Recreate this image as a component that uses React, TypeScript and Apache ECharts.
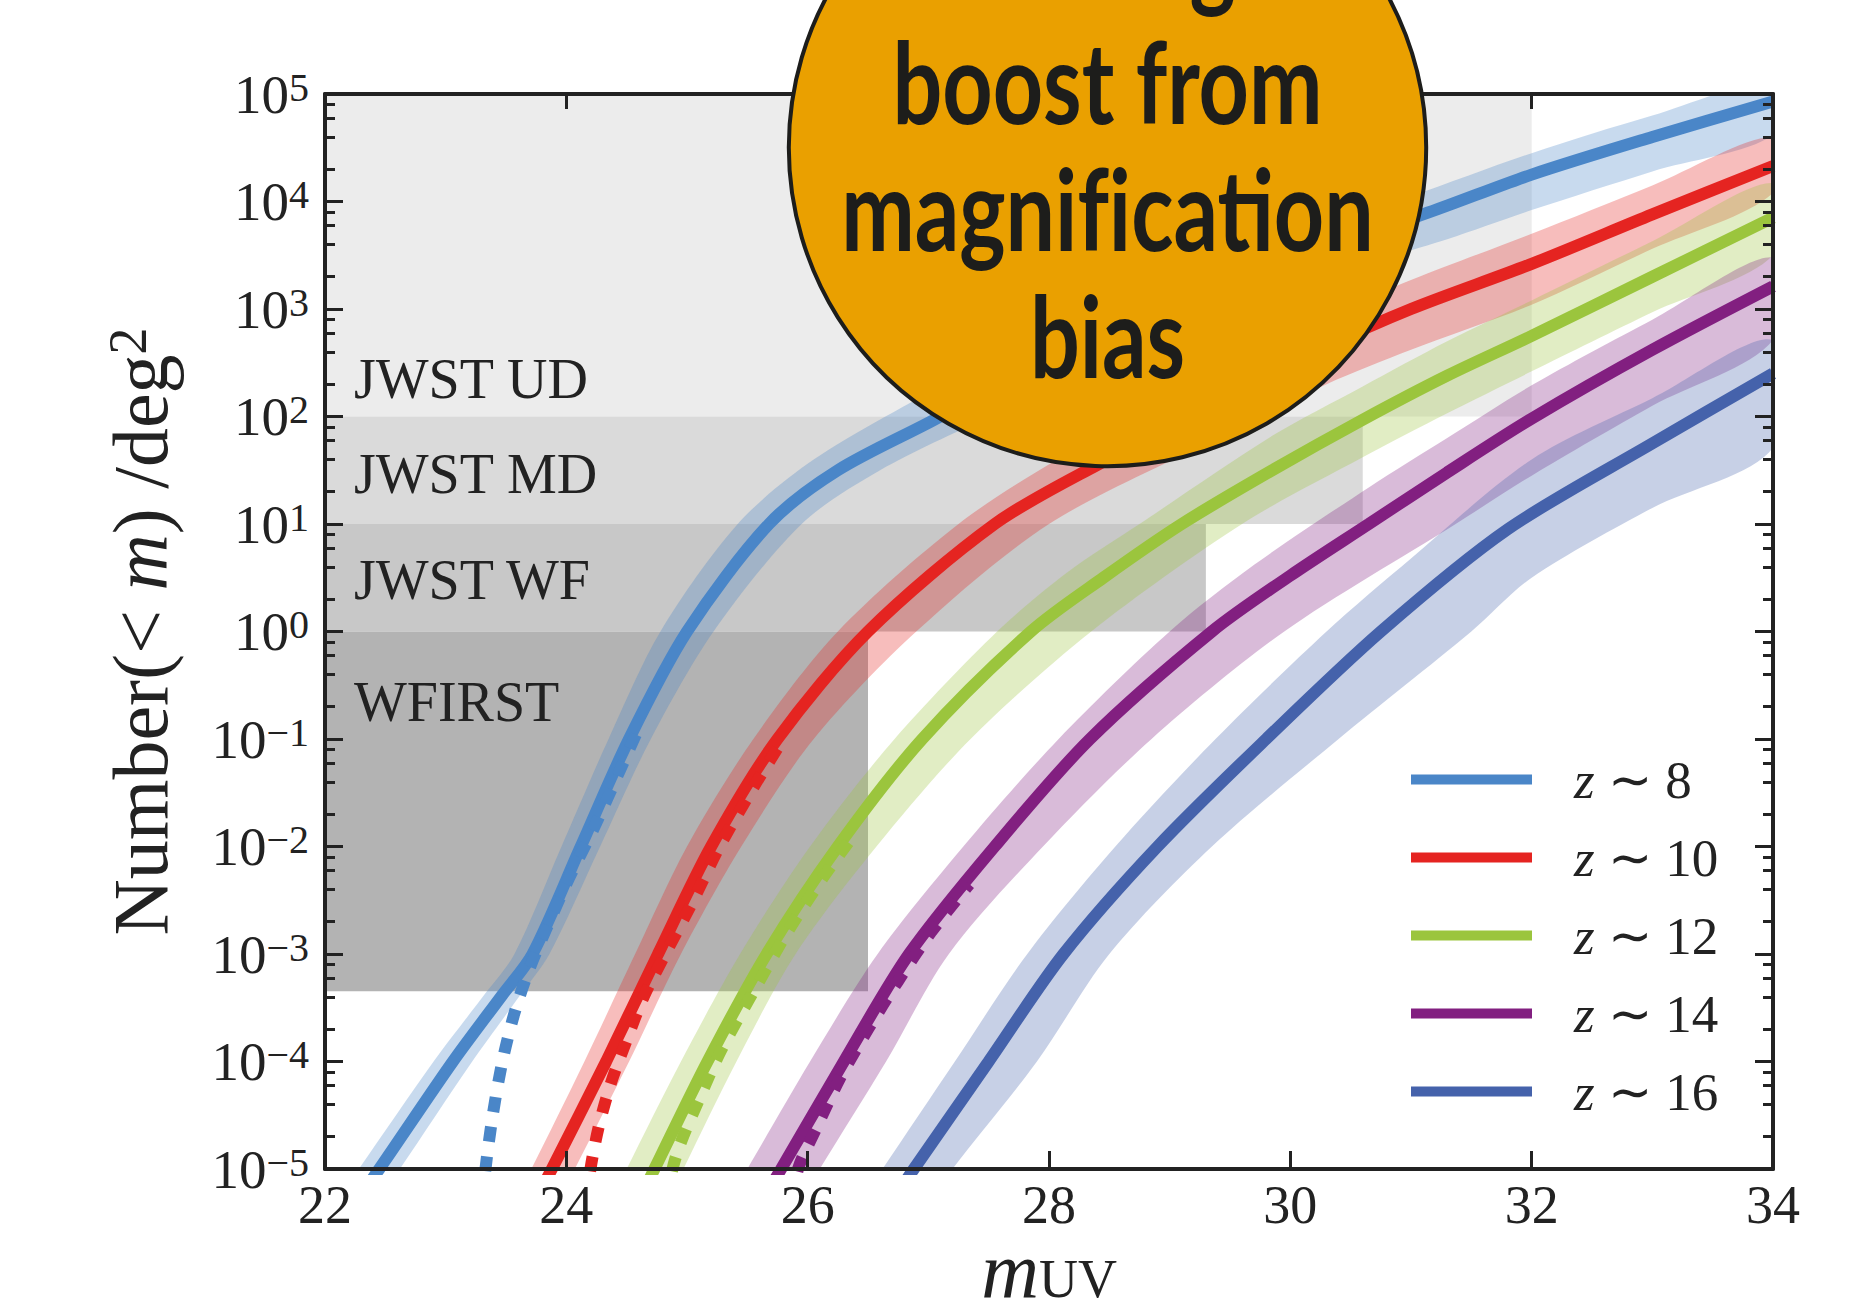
import React, { useEffect, useRef } from 'react';
import * as echarts from 'echarts';

// ---------- axis data ----------
const magTicks = [22, 24, 26, 28, 30, 32, 34];
const magMin = 22;
const magMax = 34;
const nMin = 1e-5;
const nMax = 1e5;
const minorSubs = [2, 4, 6, 8];

// ---------- series meta ----------
const seriesNames = ['z ∼ 8', 'z ∼ 10', 'z ∼ 12', 'z ∼ 14', 'z ∼ 16'];
const seriesColors = ['#4a86c8', '#e52421', '#9bc53d', '#821f80', '#4562ab'];

// ---------- curves: [m_UV, log10 Number(<m)/deg^2] ----------
const z8Line = [[22.26, -5.3], [22.45, -5], [23.06, -4], [23.47, -3.38], [23.72, -3], [24.12, -2], [24.52, -1], [25.0, 0], [25.68, 1], [26.25, 1.5], [27.1, 2], [28, 2.58], [29, 3.08], [30, 3.48], [31.1, 3.88], [32, 4.25], [33, 4.6], [34, 4.93]];
const z8Upper = [[22.09, -5.3], [22.28, -5], [22.9, -4], [23.32, -3.38], [23.57, -3], [23.96, -2], [24.35, -1], [24.78, 0], [25.42, 1], [26.05, 1.6], [27.1, 2.28], [28, 2.8], [29, 3.28], [30, 3.68], [31, 4.05], [32, 4.45], [33, 4.8], [34, 5.1]];
const z8Lower = [[22.43, -5.3], [22.62, -5], [23.22, -4], [23.62, -3.38], [23.86, -3], [24.28, -2], [24.7, -1], [25.22, 0], [25.95, 1], [26.6, 1.5], [27.5, 2.0], [28.5, 2.55], [29.5, 3.0], [30.5, 3.38], [31.3, 3.65], [32, 3.92], [33, 4.28], [34, 4.62]];
const z8NoBias = [[23.31, -5.3], [23.33, -5], [23.39, -4.5], [23.47, -4], [23.57, -3.55], [23.69, -3.15], [23.84, -2.75], [24.02, -2.3], [24.24, -1.8], [24.44, -1.3], [24.6, -0.9]];

const z10Line = [[23.74, -5.3], [23.88, -5], [24.33, -4], [24.76, -3], [25.2, -2], [25.75, -1], [26.5, 0], [27.55, 1], [28.4, 1.55], [29.4, 2.12], [30.3, 2.65], [31, 3.0], [32, 3.42], [33, 3.88], [34, 4.33]];
const z10Upper = [[23.57, -5.3], [23.71, -5], [24.15, -4], [24.57, -3], [25.0, -2], [25.55, -1], [26.25, 0], [27.25, 1], [28.1, 1.62], [29.4, 2.42], [30.3, 2.93], [31, 3.27], [32, 3.7], [33, 4.15], [34, 4.6]];
const z10Lower = [[23.93, -5.3], [24.07, -5], [24.52, -4], [24.95, -3], [25.45, -2], [26.05, -1], [26.9, 0], [28.0, 1], [29.4, 1.8], [30.3, 2.3], [31, 2.62], [32, 3.04], [33, 3.56], [34, 4.08]];
const z10NoBias = [[24.17, -5.3], [24.2, -5], [24.27, -4.6], [24.37, -4.2], [24.5, -3.8], [24.64, -3.4], [24.82, -3.0], [25.03, -2.55], [25.27, -2.0], [25.55, -1.45], [25.77, -1.05]];

const z12Line = [[24.6, -5.3], [24.73, -5], [25.17, -4], [25.66, -3], [26.25, -2], [26.95, -1], [27.85, 0], [28.45, 0.5], [29.1, 1.0], [29.85, 1.5], [30.6, 1.97], [31.3, 2.38], [32, 2.75], [33, 3.3], [34, 3.85]];
const z12Upper = [[24.37, -5.3], [24.5, -5], [24.95, -4], [25.44, -3], [26.02, -2], [26.72, -1], [27.57, 0], [28.15, 0.55], [28.75, 1.0], [29.85, 1.82], [30.6, 2.28], [31.3, 2.7], [32, 3.08], [33, 3.63], [34, 4.17]];
const z12Lower = [[24.84, -5.3], [24.97, -5], [25.41, -4], [25.9, -3], [26.57, -2], [27.35, -1], [28.35, 0], [29.6, 1.0], [30.6, 1.62], [31.3, 2.03], [32, 2.42], [33, 2.97], [34, 3.5]];
const z12NoBias = [[24.84, -5.3], [24.88, -5], [24.95, -4.75], [25.1, -4.35], [25.28, -3.9], [25.55, -3.35], [25.83, -2.8], [26.12, -2.3], [26.41, -1.85]];

const z14Line = [[25.62, -5.3], [25.78, -5], [26.3, -4], [26.84, -3], [27.55, -2], [28.34, -1], [29.35, 0], [30.0, 0.52], [30.65, 1.0], [31.3, 1.48], [32, 1.98], [33, 2.62], [34, 3.21]];
const z14Upper = [[25.34, -5.3], [25.5, -5], [26.02, -4], [26.58, -3], [27.29, -2], [28.08, -1], [29.0, 0], [29.7, 0.62], [30.65, 1.34], [31.3, 1.8], [32, 2.29], [33, 2.9], [34, 3.48]];
const z14Lower = [[25.94, -5.3], [26.1, -5], [26.65, -4], [27.17, -3], [27.95, -2], [28.85, -1], [29.95, 0], [31.37, 1.0], [32, 1.45], [33, 2.1], [34, 2.71]];
const z14NoBias = [[25.88, -5.3], [25.92, -5], [26.08, -4.6], [26.27, -4.15], [26.5, -3.7], [26.75, -3.25], [27.02, -2.8], [27.34, -2.35]];

const z16Line = [[26.7, -5.3], [26.88, -5], [27.5, -4], [28.12, -3], [28.9, -2], [29.8, -1], [30.75, 0], [31.8, 0.95], [33, 1.75], [34, 2.4]];
const z16Upper = [[26.44, -5.3], [26.62, -5], [27.22, -4], [27.82, -3], [28.55, -2], [29.38, -1], [30.3, 0], [31, 0.68], [32, 1.6], [33, 2.17], [34, 2.71]];
const z16Lower = [[27.02, -5.3], [27.2, -5], [27.9, -4], [28.5, -3], [29.35, -2], [30.4, -1], [31.5, 0], [32, 0.5], [33, 1.15], [34, 1.71]];

const centerLines = [z8Line, z10Line, z12Line, z14Line, z16Line];
const upperEdges = [z8Upper, z10Upper, z12Upper, z14Upper, z16Upper];
const lowerEdges = [z8Lower, z10Lower, z12Lower, z14Lower, z16Lower];
const noBiasLines = [z8NoBias, z10NoBias, z12NoBias, z14NoBias];

// ---------- survey regions ----------
const regionNames = ['JWST UD', 'JWST MD', 'JWST WF', 'WFIRST'];
const regionMagMax = [32, 30.6, 29.3, 26.5];
const regionNLow = [1e2, 1e1, 1, 4.5e-4];
const regionNHigh = [1e5, 1e2, 1e1, 1];
const regionColors = ['#ececec', '#dadada', '#c8c8c8', '#b3b3b3'];
const regionLabelMag = [22.24, 22.24, 22.24, 22.24];
const regionLabelN = [157, 20.9, 2.14, 0.158]; // text baseline

// ---------- bubble ----------
const bubbleLines = ['Strong', 'boost from', 'magnif\u200Cication', 'bias'];
const bubbleBaselines = [-3, 124, 251, 378];

const SERIF = '"Liberation Serif", "Times New Roman", serif';
const INK = '#222222';

const toVal = (pts: number[][]) => pts.map(([m, lg]) => [m, Math.pow(10, lg)]);

function supDigits(e: number) {
  return e < 0 ? '−' + String(-e) : String(e);
}

function buildOption() {
  const minorTickLogs: number[] = [];
  for (let e = -5; e < 5; e++) for (const k of minorSubs) minorTickLogs.push(e + Math.log10(k));

  const axisLine = { onZero: false, lineStyle: { color: INK, width: 4 } };
  const majorTick = { inside: true, length: 18, lineStyle: { color: INK, width: 3 } };

  const series: any[] = [];

  // survey regions
  series.push({
    type: 'custom',
    name: 'regions',
    silent: true,
    clip: true,
    z: 1,
    data: regionNames.map((_, i) => [magMin, regionNLow[i], regionMagMax[i], regionNHigh[i]]),
    renderItem: (params: any, api: any) => {
      const i = params.dataIndex;
      const p0 = api.coord([magMin, regionNHigh[i]]);
      const p1 = api.coord([regionMagMax[i], regionNLow[i]]);
      const lab = api.coord([regionLabelMag[i], regionLabelN[i]]);
      return {
        type: 'group',
        children: [
          {
            type: 'rect',
            shape: { x: p0[0], y: p0[1], width: p1[0] - p0[0], height: p1[1] - p0[1] },
            style: { fill: regionColors[i] },
          },
          {
            type: 'text',
            x: lab[0],
            y: lab[1] - 16,
            style: {
              text: regionNames[i],
              fill: INK,
              font: `56px ${SERIF}`,
              align: 'left',
              textAlign: 'left',
              verticalAlign: 'middle',
              textVerticalAlign: 'middle',
            },
          },
        ],
      };
    },
  });

  // bands
  seriesNames.forEach((name, i) => {
    const up = toVal(upperEdges[i]);
    const lo = toVal(lowerEdges[i]);
    series.push({
      type: 'custom',
      name: name + ' band',
      silent: true,
      clip: true,
      z: 2,
      data: [up[0]],
      renderItem: (_p: any, api: any) => {
        const pts = up.map((p) => api.coord(p)).concat(lo.slice().reverse().map((p) => api.coord(p)));
        return {
          type: 'polygon',
          shape: { points: pts, smooth: 0.3 },
          style: { fill: seriesColors[i], opacity: 0.3 },
        };
      },
    });
  });

  // central curves
  seriesNames.forEach((name, i) => {
    series.push({
      type: 'line',
      name,
      data: toVal(centerLines[i]),
      symbol: 'none',
      showSymbol: false,
      smooth: 0.3,
      silent: true,
      z: 3,
      itemStyle: { color: seriesColors[i] },
      lineStyle: { color: seriesColors[i], width: 12 },
    });
  });

  // without magnification bias (dotted)
  noBiasLines.forEach((pts, i) => {
    series.push({
      type: 'line',
      name: seriesNames[i] + ' no bias',
      data: toVal(pts),
      symbol: 'none',
      showSymbol: false,
      smooth: 0.3,
      silent: true,
      z: 4,
      itemStyle: { color: seriesColors[i] },
      lineStyle: { color: seriesColors[i], width: 12, type: [15, 15] },
    });
  });

  const graphic: any[] = [
    {
      type: 'circle',
      z: 100,
      shape: { cx: 1107.5, cy: 147.5, r: 318.7 },
      style: { fill: '#eaa000', stroke: '#1d1d1b', lineWidth: 4 },
    },
    ...bubbleLines.map((t, i) => ({
      type: 'text',
      z: 101,
      x: 1107.5,
      y: bubbleBaselines[i] - 44,
      scaleX: 0.77,
      style: {
        text: t,
        font: 'bold 114px Lato, "Open Sans", sans-serif',
        fill: '#1d1d1b',
        textAlign: 'center',
        textVerticalAlign: 'middle',
        align: 'center',
        verticalAlign: 'middle',
      },
    })),
  ];

  return {
    animation: false,
    backgroundColor: '#ffffff',
    grid: { left: 325, top: 94, width: 1448, height: 1075, containLabel: false, outerBoundsMode: 'none' },
    legend: {
      data: seriesNames,
      orient: 'vertical',
      left: 1411,
      top: 753,
      padding: 0,
      icon: 'rect',
      itemWidth: 121,
      itemHeight: 10,
      itemGap: 25,
      selectedMode: false,
      formatter: (name: string) => '{i|z}' + name.slice(1),
      textStyle: {
        fontFamily: SERIF,
        fontSize: 53,
        lineHeight: 50,
        color: INK,
        padding: [0, 0, 0, 37],
        rich: { i: { fontFamily: SERIF, fontSize: 53, fontStyle: 'italic', color: INK } },
      },
    },
    xAxis: [
      {
        type: 'value',
        min: magMin,
        max: magMax,
        interval: 2,
        position: 'bottom',
        z: 10,
        axisLine,
        axisTick: majorTick,
        splitLine: { show: false },
        axisLabel: {
          margin: 9,
          color: INK,
          fontFamily: SERIF,
          fontSize: 54,
          showMinLabel: true,
          showMaxLabel: true,
          customValues: magTicks,
        },
        name: '{i|m}{s|UV}',
        nameLocation: 'middle',
        nameGap: 69,
        nameMoveOverlap: false,
        nameTextStyle: {
          color: INK,
          fontFamily: SERIF,
          fontSize: 76,
          lineHeight: 64,
          verticalAlign: 'top',
          rich: {
            i: { fontFamily: SERIF, fontSize: 80, fontStyle: 'italic', color: INK, lineHeight: 64 },
            s: { fontFamily: SERIF, fontSize: 54, color: INK, lineHeight: 46, padding: [18, 0, 0, 0] },
          },
        },
      },
      {
        type: 'value',
        min: magMin,
        max: magMax,
        interval: 2,
        position: 'top',
        z: 10,
        axisLine,
        axisTick: { ...majorTick, length: 15 },
        axisLabel: { show: false },
        splitLine: { show: false },
      },
    ],
    yAxis: [
      {
        type: 'log',
        logBase: 10,
        min: nMin,
        max: nMax,
        interval: 1,
        position: 'left',
        z: 10,
        axisLine,
        axisTick: majorTick,
        splitLine: { show: false },
        axisLabel: {
          margin: 16,
          showMinLabel: true,
          showMaxLabel: true,
          color: INK,
          formatter: (v: number) => `{b|10}{s|${supDigits(Math.round(Math.log10(v)))}}`,
          rich: {
            b: { fontFamily: SERIF, fontSize: 55, lineHeight: 54, color: INK },
            s: { fontFamily: SERIF, fontSize: 40, lineHeight: 28, verticalAlign: 'top', color: INK },
          },
        },
        name: 'Number(< {i|m}) /deg{s|2}',
        nameLocation: 'middle',
        nameRotate: 90,
        nameGap: 146,
        nameTextStyle: {
          color: INK,
          fontFamily: SERIF,
          fontSize: 78,
          lineHeight: 78,
          rich: {
            i: { fontFamily: SERIF, fontSize: 78, fontStyle: 'italic', color: INK, lineHeight: 78 },
            s: { fontFamily: SERIF, fontSize: 54, color: INK, lineHeight: 40, verticalAlign: 'top' },
          },
        },
      },
      {
        type: 'log',
        logBase: 10,
        min: nMin,
        max: nMax,
        interval: 1,
        position: 'right',
        z: 10,
        axisLine,
        axisTick: majorTick,
        axisLabel: { show: false },
        splitLine: { show: false },
      },
      {
        type: 'value',
        min: -5,
        max: 5,
        position: 'left',
        z: 10,
        axisLine: { show: false, onZero: false },
        axisTick: { show: true, inside: true, length: 10, customValues: minorTickLogs, lineStyle: { color: INK, width: 3 } },
        axisLabel: { show: false },
        splitLine: { show: false },
      },
      {
        type: 'value',
        min: -5,
        max: 5,
        position: 'right',
        z: 10,
        axisLine: { show: false, onZero: false },
        axisTick: { show: true, inside: true, length: 10, customValues: minorTickLogs, lineStyle: { color: INK, width: 3 } },
        axisLabel: { show: false },
        splitLine: { show: false },
      },
    ],
    series,
    graphic,
  };
}

export default function App() {
  const ref = useRef<HTMLDivElement>(null);
  useEffect(() => {
    if (!ref.current) return;
    const chart = echarts.init(ref.current, null, { renderer: 'svg' });
    chart.setOption(buildOption() as any);
    return () => chart.dispose();
  }, []);
  return (
    <div
      ref={ref}
      style={{ position: 'fixed', left: 0, top: 0, width: 1851, height: 1305, background: '#ffffff' }}
    />
  );
}
